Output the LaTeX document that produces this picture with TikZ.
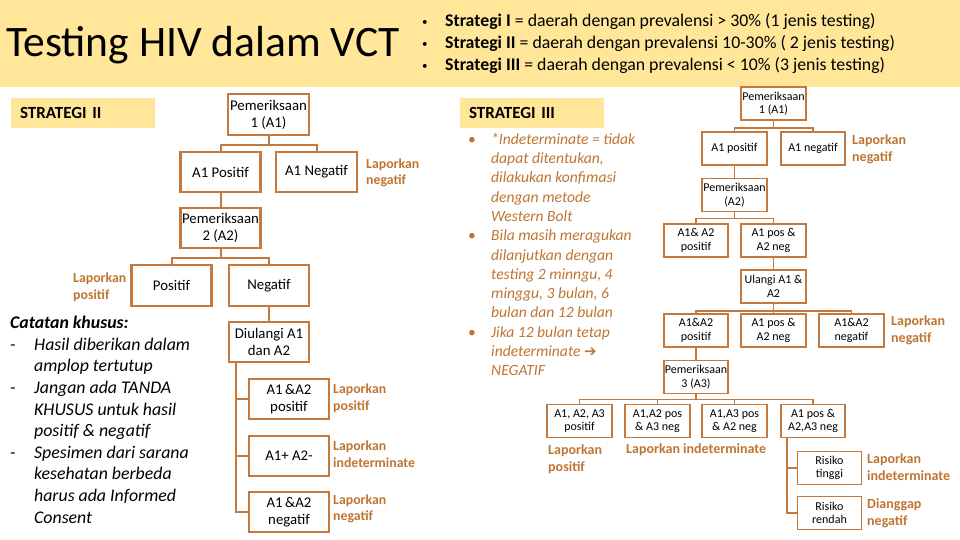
\documentclass[tikz,border=0pt]{standalone}
\usepackage{fontspec}
\setmainfont{Carlito}
\newfontfamily\panahfont{DejaVu Sans}
\usetikzlibrary{positioning,calc}
\definecolor{kuning}{RGB}{255,230,153}
\definecolor{coklat}{RGB}{197,121,60}
\definecolor{teksc}{RGB}{191,117,50}

\begin{document}
\begin{tikzpicture}[x=1pt,y=-1pt,
    st/.style={draw=coklat, line width=2.2pt, fill=white, align=center,
               minimum width=80pt, minimum height=40pt, inner sep=0.5pt,
               font=\fontsize{14.8}{17}\selectfont},
    sm/.style={draw=coklat, line width=1.8pt, fill=white, align=center,
               minimum width=64pt, minimum height=33pt, inner sep=0.5pt,
               font=\fontsize{12}{13.5}\selectfont},
    lbl/.style={anchor=west, align=left, inner sep=0pt, text=teksc,
                font=\fontsize{13.8}{16.5}\selectfont\bfseries},
    lbls/.style={anchor=west, align=left, inner sep=0pt, text=teksc,
                 font=\fontsize{14}{17}\selectfont\bfseries},
    judul/.style={fill=kuning, text width=126pt, inner xsep=9pt, inner ysep=0pt,
                  minimum height=30pt, align=left,
                  font=\fontsize{17}{19}\selectfont\bfseries},
    conn/.style={draw=coklat, line width=2pt},
    conns/.style={draw=coklat, line width=1.6pt},
]
\useasboundingbox (0,0) rectangle (960,540);
% header band
\fill[kuning] (0,0) rectangle (960,87);
\node[anchor=west, inner sep=0pt, font=\fontsize{43.5}{46}\selectfont] (title) at (6,45) {Testing HIV dalam VCT};
\node[anchor=west, inner sep=0pt, align=left, font=\fontsize{17.8}{22}\selectfont] (info) at (422,44)
  {\makebox[23pt][l]{\raisebox{1pt}{\fontsize{11}{11}\selectfont\textbullet}}\textbf{Strategi I} = daerah dengan prevalensi > 30\% (1 jenis testing)\\
   \makebox[23pt][l]{\raisebox{1pt}{\fontsize{11}{11}\selectfont\textbullet}}\textbf{Strategi II} = daerah dengan prevalensi 10-30\% ( 2 jenis testing)\\
   \makebox[23pt][l]{\raisebox{1pt}{\fontsize{11}{11}\selectfont\textbullet}}\textbf{Strategi III} = daerah dengan prevalensi < 10\% (3 jenis testing)};

% ---------------- STRATEGI II ----------------
\node[judul] (s2) at (83,113) {STRATEGI II};
\node[st, minimum width=81pt, minimum height=41pt] (p1) at (268.5,114.5) {Pemeriksaan\\1 (A1)};
\node[st] (a1pos) at (220.5,172) {A1 Positif};
\node[st, minimum width=81pt] (a1neg) at (316.5,172) {A1 Negatif};
\node[st] (p2) at (220.5,228) {Pemeriksaan\\2 (A2)};
\node[st, minimum height=41pt] (pos) at (171.5,285.5) {Positif};
\node[st, minimum height=41pt] (neg) at (269,285.5) {Negatif};
\node[st] (ulang) at (269,342) {Diulangi A1\\dan A2};
\node[st] (r1) at (289,399) {A1\,\&A2\\positif};
\node[st] (r2) at (289,456) {A1+ A2-};
\node[st] (r3) at (289,512) {A1\,\&A2\\negatif};

\node[lbl] (l1) at (366,173) {Laporkan\\negatif};
\node[lbl] (l2) at (73,287) {Laporkan\\positif};
\node[lbl] (l3) at (333,398) {Laporkan\\positif};
\node[lbl] (l4) at (333,454) {Laporkan\\indeterminate};
\node[lbl] (l5) at (333,509) {Laporkan\\negatif};

\draw[conn] (p1.south) -- ++(0,9) coordinate (j1);
\draw[conn] (a1pos.north) |- (j1) -| (a1neg.north);
\draw[conn] (a1pos) -- (p2);
\draw[conn] (p2.south) -- ++(0,9) coordinate (j2);
\draw[conn] (pos.north) |- (j2) -| (neg.north);
\draw[conn] (neg) -- (ulang);
\coordinate (t1) at ($(ulang.south west)+(8,0)$);
\draw[conn] (t1) |- (r1.west);
\draw[conn] (t1) |- (r2.west);
\draw[conn] (t1) |- (r3.west);

% notes
\node[anchor=north west, inner sep=0pt, align=left, font=\fontsize{17.8}{21.6}\selectfont\itshape] (catatan) at (10,316)
  {\textbf{Catatan khusus:}\\
   \makebox[24pt][l]{-}Hasil diberikan dalam\\
   \hspace*{24pt}amplop tertutup\\
   \makebox[24pt][l]{-}Jangan ada TANDA\\
   \hspace*{24pt}KHUSUS untuk hasil\\
   \hspace*{24pt}positif \& negatif\\
   \makebox[24pt][l]{-}Spesimen dari sarana\\
   \hspace*{24pt}kesehatan berbeda\\
   \hspace*{24pt}harus ada Informed\\
   \hspace*{24pt}Consent};

% ---------------- STRATEGI III ----------------
\node[judul] (s3) at (532,113) {STRATEGI III};
\node[anchor=north west, inner sep=0pt, align=left, text=teksc, font=\fontsize{15.6}{19.3}\selectfont\itshape] (ket) at (468,133)
  {\makebox[23pt][l]{\upshape\textbullet}*Indeterminate = tidak\\
   \hspace*{23pt}dapat ditentukan,\\
   \hspace*{23pt}dilakukan konfimasi\\
   \hspace*{23pt}dengan metode\\
   \hspace*{23pt}Western Bolt\\
   \makebox[23pt][l]{\upshape\textbullet}Bila masih meragukan\\
   \hspace*{23pt}dilanjutkan dengan\\
   \hspace*{23pt}testing 2 minngu, 4\\
   \hspace*{23pt}minggu, 3 bulan, 6\\
   \hspace*{23pt}bulan dan 12 bulan\\
   \makebox[23pt][l]{\upshape\textbullet}Jika 12 bulan tetap\\
   \hspace*{23pt}indeterminate {\upshape\panahfont\fontsize{15}{15}\selectfont ➔}\\
   \hspace*{23pt}NEGATIF};

\node[sm, minimum width=65pt] (q1) at (773.5,103.5) {Pemeriksaan\\1 (A1)};
\node[sm, minimum width=65pt] (qa1pos) at (734.5,148.5) {A1 positif};
\node[sm] (qa1neg) at (813,148.5) {A1 negatif};
\node[sm, minimum width=65pt] (q2) at (734.5,195) {Pemeriksaan\\(A2)};
\node[sm] (qb1) at (696,240.5) {A1\& A2\\positif};
\node[sm, minimum width=65pt] (qb2) at (773.5,240.5) {A1 pos \&\\A2 neg};
\node[sm, minimum width=65pt] (qul) at (773.5,286.5) {Ulangi A1 \&\\A2};
\node[sm] (qc1) at (696,330.5) {A1\&A2\\positif};
\node[sm, minimum width=65pt] (qc2) at (773.5,330.5) {A1 pos \&\\A2 neg};
\node[sm, minimum width=65pt] (qc3) at (851.5,330.5) {A1\&A2\\negatif};
\node[sm] (q3) at (696,377) {Pemeriksaan\\3 (A3)};
\node[sm, minimum width=65pt] (qd1) at (579.5,421) {A1, A2, A3\\positif};
\node[sm, minimum width=65pt] (qd2) at (657.5,421) {A1,A2 pos\\\& A3 neg};
\node[sm, minimum width=65pt] (qd3) at (734.5,421) {A1,A3 pos\\\& A2 neg};
\node[sm] (qd4) at (813,421) {A1 pos \&\\A2,A3 neg};
\node[sm] (qe1) at (829.5,468) {Risiko\\tinggi};
\node[sm] (qe2) at (829.5,513) {Risiko\\rendah};

\node[lbls] (m1) at (852,149) {Laporkan\\negatif};
\node[lbls] (m2) at (891,330.5) {Laporkan\\negatif};
\node[lbls] (m3) at (548,459) {Laporkan\\positif};
\node[lbls] (m4) at (626,450) {Laporkan indeterminate};
\node[lbls] (m5) at (867,467) {Laporkan\\indeterminate};
\node[lbls] (m6) at (867,513) {Dianggap\\negatif};

\draw[conns] (q1.south) -- ++(0,7) coordinate (k1);
\draw[conns] (qa1pos.north) |- (k1) -| (qa1neg.north);
\draw[conns] (qa1pos) -- (q2);
\draw[conns] (q2.south) -- ++(0,6) coordinate (k2);
\draw[conns] (qb1.north) |- (k2) -| (qb2.north);
\draw[conns] (qb2) -- (qul);
\draw[conns] (qul.south) -- ++(0,7) coordinate (k3);
\draw[conns] (qc1.north) |- (k3) -| (qc3.north);
\draw[conns] (k3) -- (qc2.north);
\draw[conns] (qc1) -- (q3);
\draw[conns] (q3.south) -- ++(0,5) coordinate (k4);
\draw[conns] (qd1.north) |- (k4) -| (qd4.north);
\draw[conns] (qd2.north) |- (k4);
\draw[conns] (qd3.north) |- (k4);
\coordinate (t2) at ($(qd4.south west)+(7,0)$);
\draw[conns] (t2) |- (qe1.west);
\draw[conns] (t2) |- (qe2.west);
\end{tikzpicture}
\end{document}
